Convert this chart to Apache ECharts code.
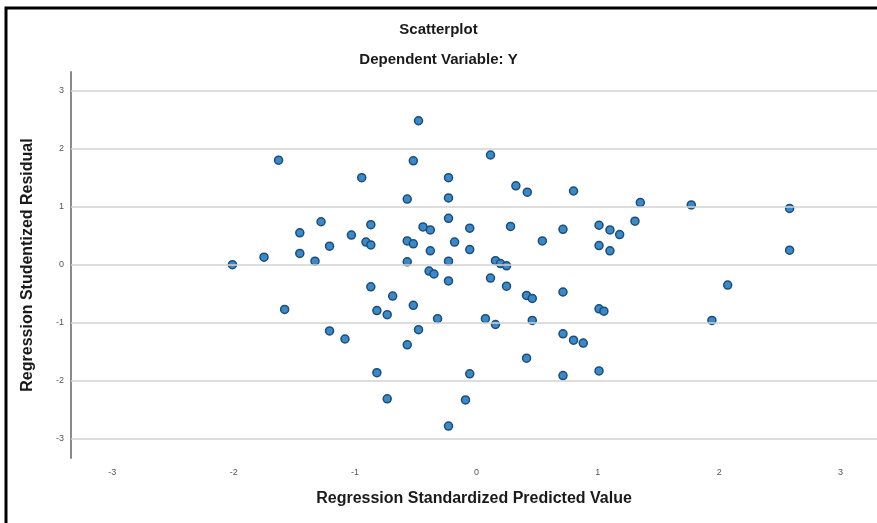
<!DOCTYPE html>
<html>
<head>
<meta charset="utf-8">
<script src="https://cdn.jsdelivr.net/npm/echarts@6/dist/echarts.min.js"></script>
<style>
  html, body { margin: 0; padding: 0; background: #fff; }
  #chart { width: 877px; height: 523px; }
</style>
</head>
<body>
<div id="chart"></div>
<script>
// Regression Standardized Predicted Value (x)
const predicted = [
  -2.01, -1.75, -1.58, -1.63, -1.455, -1.455, -1.28, -1.33, -1.21, -1.21,
  -1.083, -1.03, -0.945, -0.91, -0.87, -0.87, -0.87, -0.82, -0.82, -0.735,
  -0.735, -0.69, -0.57, -0.57, -0.57, -0.57, -0.52, -0.52, -0.52, -0.477,
  -0.477, -0.44, -0.38, -0.38, -0.39, -0.35, -0.32, -0.23, -0.23, -0.23,
  -0.18, -0.23, -0.23, -0.23, -0.055, -0.055, -0.055, -0.09, 0.074, 0.116,
  0.116, 0.157, 0.198, 0.248, 0.157, 0.248, 0.281, 0.325, 0.419, 0.413,
  0.46, 0.46, 0.413, 0.543, 0.713, 0.713, 0.713, 0.713, 0.80, 0.80,
  0.88, 1.01, 1.01, 1.10, 1.10, 1.18, 1.01, 1.05, 1.01, 1.306,
  1.35, 1.77, 1.94, 2.07, 2.58, 2.58
];
// Regression Studentized Residual (y)
const residual = [
  0.00, 0.13, -0.77, 1.80, 0.55, 0.195, 0.74, 0.06, 0.32, -1.14,
  -1.28, 0.51, 1.50, 0.39, 0.34, 0.69, -0.38, -0.79, -1.86, -0.86,
  -2.31, -0.54, 1.13, 0.41, 0.05, -1.38, 1.79, 0.36, -0.70, 2.48,
  -1.12, 0.65, 0.60, 0.24, -0.11, -0.16, -0.93, 1.50, 1.15, 0.80,
  0.39, 0.06, -0.28, -2.78, 0.63, 0.26, -1.88, -2.33, -0.93, 1.89,
  -0.23, 0.07, 0.02, -0.02, -1.03, -0.37, 0.66, 1.36, 1.25, -0.53,
  -0.58, -0.96, -1.61, 0.41, 0.61, -0.47, -1.19, -1.91, 1.27, -1.30,
  -1.35, 0.68, 0.33, 0.60, 0.24, 0.52, -0.76, -0.80, -1.83, 0.75,
  1.07, 1.03, -0.96, -0.35, 0.97, 0.25
];
const xTicks = [-3, -2, -1, 0, 1, 2, 3];
const yTicks = [-3, -2, -1, 0, 1, 2, 3];
const titleText = 'Scatterplot';
const subtitleText = 'Dependent Variable: Y';
const xName = 'Regression Standardized Predicted Value';
const yName = 'Regression Studentized Residual';

const points = predicted.map((x, i) => [x, residual[i]]);
const fontFam = '"Liberation Sans", Arial, sans-serif';

const chart = echarts.init(document.getElementById('chart'), null, { renderer: 'canvas' });
chart.setOption({
  backgroundColor: '#ffffff',
  animation: false,
  title: [
    { text: titleText, left: 'center', top: 17,
      textStyle: { fontFamily: fontFam, fontSize: 15, fontWeight: 'bold', color: '#1a1a1a' } },
    { text: subtitleText, left: 'center', top: 47,
      textStyle: { fontFamily: fontFam, fontSize: 15, fontWeight: 'bold', color: '#1a1a1a' } }
  ],
  graphic: [
    { type: 'polyline', z: 100,
      shape: { points: [[6, 540], [6, 8], [880, 8]] },
      style: { stroke: '#000', lineWidth: 3, fill: null } }
  ],
  grid: { left: 71, right: 0, top: 72, bottom: 65, containLabel: false },
  xAxis: {
    type: 'value', min: -3.34, max: 3.30,
    name: xName, nameLocation: 'middle', nameGap: 33,
    nameTextStyle: { fontFamily: fontFam, fontSize: 16, fontWeight: 'bold', color: '#1a1a1a' },
    axisLine: { show: false },
    axisTick: { show: false },
    splitLine: { show: false },
    axisLabel: { customValues: xTicks, showMinLabel: true, showMaxLabel: true,
      margin: 10, fontFamily: fontFam, fontSize: 9, color: '#555',
      formatter: v => String(v) }
  },
  yAxis: {
    type: 'value', min: -3.33, max: 3.32,
    name: yName, nameLocation: 'middle', nameGap: 35, nameRotate: 90,
    nameTextStyle: { fontFamily: fontFam, fontSize: 16, fontWeight: 'bold', color: '#1a1a1a' },
    axisLine: { show: true, onZero: false, lineStyle: { color: '#8a8a8a', width: 2 } },
    axisTick: { show: false },
    splitLine: { show: false },
    axisLabel: { customValues: yTicks, margin: 7, fontFamily: fontFam, fontSize: 9, color: '#555',
      formatter: v => String(v) }
  },
  series: [
    {
      type: 'scatter', data: [], z: 1, silent: true,
      markLine: {
        silent: true, symbol: 'none', animation: false,
        label: { show: false },
        lineStyle: { color: '#d2d2d2', width: 1.6, type: 'solid' },
        data: yTicks.map(v => ({ yAxis: v }))
      }
    },
    {
      type: 'scatter', z: 3,
      data: points,
      symbol: 'circle', symbolSize: 8,
      itemStyle: { color: '#3b8ac8', borderColor: '#1c4c7c', borderWidth: 1.5, opacity: 1 }
    }
  ]
});
</script>
</body>
</html>
